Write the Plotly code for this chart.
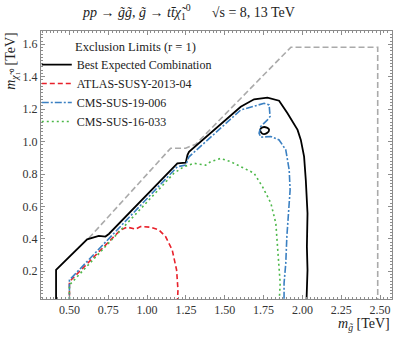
import plotly.graph_objects as go

# exclusion contours (TeV)
bound_x = [0.625, 1.152, 1.248, 1.313, 1.926, 2.485, 2.485]
bound_y = [0.404, 0.959, 0.959, 0.983, 1.582, 1.582, 0.0]

best_x = [0.414, 0.414, 0.614, 0.636, 0.689, 0.732, 0.754, 1.195, 1.249, 1.260, 1.270,
          1.603, 1.689, 1.775, 1.850, 1.904, 1.969, 1.990, 2.011, 2.022, 2.033, 2.029,
          2.033, 2.026]
best_y = [0.0, 0.208, 0.397, 0.404, 0.418, 0.414, 0.430, 0.866, 0.870, 0.917, 0.937,
          1.215, 1.261, 1.271, 1.252, 1.175, 1.072, 1.010, 0.907, 0.763, 0.558, 0.352,
          0.208, 0.0]
island_x = [1.728, 1.743, 1.771, 1.786, 1.771, 1.743, 1.728]
island_y = [1.072, 1.088, 1.086, 1.072, 1.052, 1.048, 1.072]

atlas_x = [0.500, 0.500, 0.829, 0.872, 0.926, 0.958, 1.022, 1.076, 1.119, 1.162, 1.190,
           1.199, 1.195]
atlas_y = [0.0, 0.136, 0.455, 0.472, 0.460, 0.476, 0.472, 0.455, 0.414, 0.331, 0.208,
           0.085, 0.0]

cms19_x = [0.500, 0.500, 1.195, 1.249, 1.270, 1.603, 1.754, 1.786, 1.792, 1.775, 1.732,
           1.721, 1.732, 1.797, 1.850, 1.893, 1.915, 1.921, 1.909, 1.900, 1.893, 1.882,
           1.882]
cms19_y = [0.0, 0.146, 0.845, 0.855, 0.906, 1.195, 1.236, 1.226, 1.154, 1.134, 1.093,
           1.052, 1.027, 1.031, 1.010, 0.949, 0.826, 0.702, 0.537, 0.414, 0.249, 0.126,
           0.0]

cms16_x = [0.500, 0.500, 1.173, 1.237, 1.302, 1.377, 1.409, 1.474, 1.538, 1.603, 1.689,
           1.743, 1.797, 1.829, 1.840, 1.850, 1.857, 1.850]
cms16_y = [0.0, 0.115, 0.805, 0.845, 0.866, 0.855, 0.876, 0.896, 0.876, 0.845, 0.805,
           0.722, 0.620, 0.496, 0.352, 0.249, 0.126, 0.0]

serif = "Liberation Serif"
axis_grey = "#8c8c8c"

fig = go.Figure()
fig.add_trace(go.Scatter(x=bound_x, y=bound_y, mode="lines", showlegend=False,
                         line=dict(color="#aaaaaa", width=1.6, dash="6px,3px")))
fig.add_trace(go.Scatter(x=best_x, y=best_y, mode="lines", name="Best Expected Combination",
                         line=dict(color="black", width=1.8)))
fig.add_trace(go.Scatter(x=island_x, y=island_y, mode="lines", showlegend=False,
                         line=dict(color="black", width=1.8, shape="spline")))
fig.add_trace(go.Scatter(x=atlas_x, y=atlas_y, mode="lines", name="ATLAS-SUSY-2013-04",
                         line=dict(color="#e8212b", width=1.6, dash="5px,3px")))
fig.add_trace(go.Scatter(x=cms19_x, y=cms19_y, mode="lines", name="CMS-SUS-19-006",
                         line=dict(color="#3b80c2", width=1.6, dash="7px,2px,2px,2px")))
fig.add_trace(go.Scatter(x=cms16_x, y=cms16_y, mode="lines", name="CMS-SUS-16-033",
                         line=dict(color="#4cb849", width=1.6, dash="2px,3px")))

axis_common = dict(showline=True, linecolor=axis_grey, linewidth=1, mirror="allticks",
                   ticks="inside", ticklen=4, tickcolor=axis_grey, showgrid=False,
                   zeroline=False, tickfont=dict(family=serif, size=12, color="#333333"))
fig.update_xaxes(range=[0.317, 2.577], tickvals=[0.5, 0.75, 1.0, 1.25, 1.5, 1.75, 2.0, 2.25, 2.5],
                 ticktext=["0.50", "0.75", "1.00", "1.25", "1.50", "1.75", "2.00", "2.25", "2.50"],
                 minor=dict(ticks="inside", ticklen=2, dtick=0.025, tickcolor=axis_grey),
                 **axis_common)
fig.update_yaxes(range=[0.029, 1.682], tickvals=[0.2, 0.4, 0.6, 0.8, 1.0, 1.2, 1.4, 1.6],
                 ticktext=["0.2", "0.4", "0.6", "0.8", "1.0", "1.2", "1.4", "1.6"],
                 minor=dict(ticks="inside", ticklen=2, dtick=0.02, tickcolor=axis_grey),
                 **axis_common)

fig.add_annotation(text="<i>pp</i> → <i>g̃g̃</i>, <i>g̃</i> → <i>tt̄χ̃</i><sub>1</sub><sup>0</sup>"
                        "      √s = 8, 13 TeV", align="left",
                   xref="paper", yref="paper", x=0.111, y=1.071, xanchor="left", yanchor="middle",
                   showarrow=False, font=dict(family=serif, size=14, color="#222222"))
fig.add_annotation(text="<i>m</i><sub><i>χ̃</i>₁⁰</sub> [TeV]", textangle=-90,
                   xref="paper", yref="paper", x=-0.083, y=1.004, xanchor="center", yanchor="top",
                   showarrow=False, font=dict(family=serif, size=14, color="#222222"))
fig.add_annotation(text="<i>m</i><sub><i>g̃</i></sub> [TeV]", align="right",
                   xref="paper", yref="paper", x=1.0, y=-0.097, xanchor="right", yanchor="middle",
                   showarrow=False, font=dict(family=serif, size=14, color="#222222"))
fig.add_annotation(text="Exclusion Limits (r = 1)", align="left",
                   xref="paper", yref="paper", x=0.09, y=0.94, xanchor="left", yanchor="middle",
                   showarrow=False, font=dict(family=serif, size=12.5, color="#222222"))

fig.update_layout(width=395, height=338, margin=dict(l=41, r=3, t=31, b=39),
                  plot_bgcolor="white", paper_bgcolor="white",
                  legend=dict(x=-0.012, y=0.929, xanchor="left", yanchor="top",
                              bgcolor="rgba(0,0,0,0)", tracegroupgap=0, itemwidth=30,
                              font=dict(family=serif, size=12, color="#222222")))

fig.write_html("out.html", config={"displayModeBar": False},
               post_script="document.body.style.margin='0px';document.body.style.overflow='hidden';")
